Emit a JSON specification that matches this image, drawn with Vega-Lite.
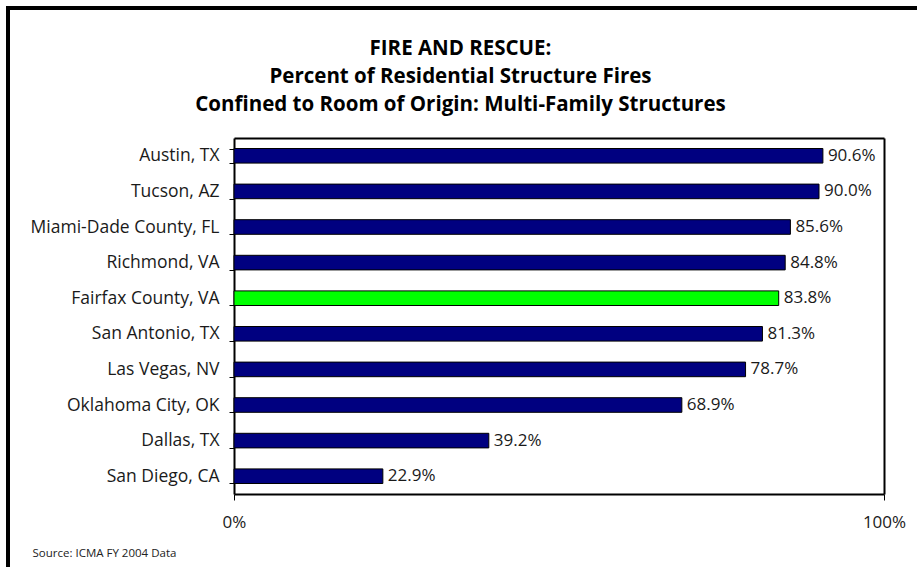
{
  "$schema": "https://vega.github.io/schema/vega-lite/v6.json",
  "autosize": {"type": "none"},
  "width": 919,
  "height": 569,
  "padding": {"left": 8, "top": 8, "right": -10, "bottom": -10},
  "background": "white",
  "title": {
    "text": ["FIRE AND RESCUE:", "Percent of Residential Structure Fires", "Confined to Room of Origin: Multi-Family Structures"],
    "anchor": "middle",
    "font": "Open Sans",
    "fontSize": 20.5,
    "fontWeight": "bold",
    "color": "black",
    "lineHeight": 28,
    "offset": -116,
    "dx": -7
  },
  "config": {
    "view": {"stroke": "black", "strokeWidth": 4, "fill": "white"},
    "axis": {"grid": false},
    "font": "Open Sans"
  },
  "data": {
    "values": [
      {"city": "Austin, TX", "value": 0.906},
      {"city": "Tucson, AZ", "value": 0.900},
      {"city": "Miami-Dade County, FL", "value": 0.856},
      {"city": "Richmond, VA", "value": 0.848},
      {"city": "Fairfax County, VA", "value": 0.838},
      {"city": "San Antonio, TX", "value": 0.813},
      {"city": "Las Vegas, NV", "value": 0.787},
      {"city": "Oklahoma City, OK", "value": 0.689},
      {"city": "Dallas, TX", "value": 0.392},
      {"city": "San Diego, CA", "value": 0.229}
    ]
  },
  "layer": [
    {
      "mark": {"type": "bar", "stroke": "black", "strokeWidth": 1},
      "encoding": {
        "x": {
          "field": "value", "type": "quantitative",
          "scale": {"domain": [0, 1], "range": [226, 876], "nice": false, "zero": true},
          "axis": {
            "orient": "bottom", "offset": -83, "values": [0, 1], "format": ".0%",
            "domain": true, "domainColor": "black", "domainWidth": 2,
            "ticks": true, "tickSize": 6, "tickColor": "black", "tickWidth": 1,
            "labelFont": "Open Sans", "labelFontSize": 17, "labelColor": "#1a1a1a", "labelPadding": 14,
            "labelFlush": false,
            "title": "Source: ICMA FY 2004 Data",
            "titleFont": "Open Sans", "titleFontSize": 11.5, "titleFontWeight": "normal", "titleColor": "#222",
            "titleAnchor": "start", "titleAlign": "left", "titleBaseline": "alphabetic",
            "titleX": 24, "titleY": 62
          }
        },
        "y": {
          "field": "city", "type": "nominal", "sort": null,
          "scale": {"range": [130, 486], "paddingInner": 0.59, "paddingOuter": 0.295},
          "axis": {
            "orient": "left", "offset": -226, "title": null,
            "domain": true, "domainColor": "black", "domainWidth": 2,
            "ticks": true, "tickBand": "extent", "tickSize": 5, "tickColor": "black", "tickWidth": 1,
            "labelFont": "Open Sans", "labelFontSize": 17.5, "labelColor": "#1a1a1a", "labelPadding": 10,
            "labelLimit": 400
          }
        },
        "color": {
          "condition": {"test": "datum.city === 'Fairfax County, VA'", "value": "#00ff00"},
          "value": "#000080"
        }
      }
    },
    {
      "mark": {"type": "text", "align": "left", "baseline": "middle", "dx": 5, "font": "Open Sans", "fontSize": 17, "color": "#1a1a1a"},
      "encoding": {
        "x": {"field": "value", "type": "quantitative", "axis": null},
        "y": {"field": "city", "type": "nominal", "sort": null, "axis": null},
        "text": {"field": "value", "type": "quantitative", "format": ".1%"}
      }
    },
    {
      "mark": {"type": "point", "opacity": 0},
      "encoding": {
        "x": {
          "field": "value", "type": "quantitative",
          "axis": {"orient": "top", "offset": -130, "domain": true, "domainColor": "black", "domainWidth": 2, "ticks": false, "labels": false, "title": null}
        },
        "y": {
          "field": "city", "type": "nominal", "sort": null,
          "axis": {"orient": "right", "offset": -43, "domain": true, "domainColor": "black", "domainWidth": 2, "ticks": false, "labels": false, "title": null}
        }
      }
    }
  ]
}
